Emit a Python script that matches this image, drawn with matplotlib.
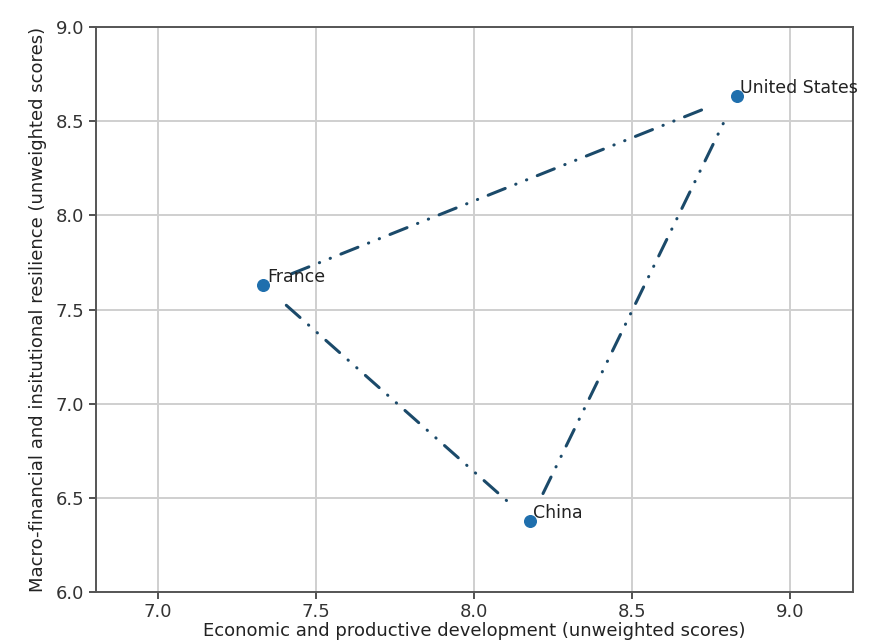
import matplotlib
matplotlib.use("Agg")
import matplotlib.pyplot as plt

countries = ["France", "United States", "China"]
econ_scores = [7.335, 8.832, 8.177]
resilience_scores = [7.63, 8.634, 6.377]
x_ticks = [7.0, 7.5, 8.0, 8.5, 9.0]
y_ticks = [6.0, 6.5, 7.0, 7.5, 8.0, 8.5, 9.0]

fig = plt.figure(figsize=(8.88, 6.43), dpi=100)
ax = fig.add_axes([0.108, 0.0793, 0.8526, 0.8787])

line_color = "#1b4a6a"
pairs = [(0, 1), (0, 2), (2, 1)]
for a, b in pairs:
    ax.annotate("", xy=(econ_scores[b], resilience_scores[b]),
                xytext=(econ_scores[a], resilience_scores[a]),
                arrowprops=dict(arrowstyle="-", color=line_color, lw=2.2,
                                linestyle=(0, (6, 3.7, 0.1, 3.7, 0.1, 3.7)),
                                shrinkA=22, shrinkB=20, capstyle="round"),
                zorder=2)

ax.scatter(econ_scores, resilience_scores, s=70, color="#1f6fad", zorder=3)
for name, x, y in zip(countries, econ_scores, resilience_scores):
    ax.annotate(name, (x, y), xytext=(2.5, -0.5), textcoords="offset points",
                fontsize=12.5, color="#222222", ha="left", va="bottom")

ax.set_xlim(6.805, 9.2)
ax.set_ylim(6.0, 9.0)
ax.set_xticks(x_ticks)
ax.set_yticks(y_ticks)
ax.tick_params(labelsize=13, length=5, width=1.2, colors="#333333")
ax.tick_params(axis="x", pad=3)
ax.grid(True, color="#cfcfcf", linewidth=1.4)
ax.set_axisbelow(True)
for s in ax.spines.values():
    s.set_color("#555555")
    s.set_linewidth(1.4)
ax.set_xlabel("Economic and productive development (unweighted scores)", fontsize=13, color="#222222", labelpad=0.5)
ax.set_ylabel("Macro-financial and insitutional resilience (unweighted scores)", fontsize=13, color="#222222", labelpad=6)

fig.savefig("out.png", dpi=100)
